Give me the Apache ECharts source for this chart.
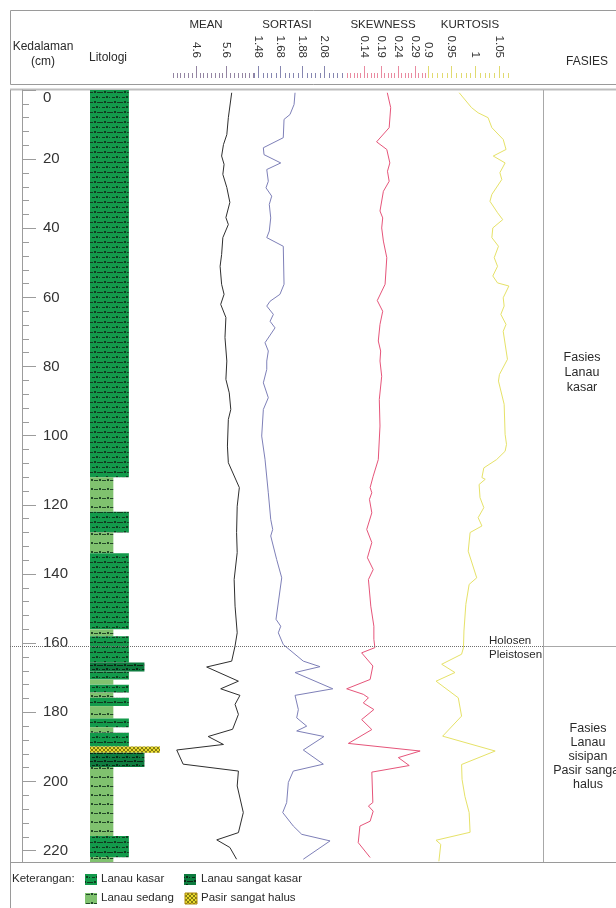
<!DOCTYPE html>
<html>
<head>
<meta charset="utf-8">
<title>Log sedimen</title>
<script src="https://cdn.jsdelivr.net/npm/echarts@6/dist/echarts.min.js"></script>
<style>
  html, body { margin: 0; padding: 0; background: #fff; }
  #chart { width: 616px; height: 908px; }
</style>
</head>
<body>
<div id="chart"></div>
<script>
// kedalaman (cm)
const depthTicks = [0, 20, 40, 60, 80, 100, 120, 140, 160, 180, 200, 220];
const maxDepth = 223.3;
const boundaryDepth = 161; // Holosen / Pleistosen

// litologi (cm)
const lithTop = [0, 112, 122, 128, 134, 156, 158, 165.6, 168.2, 170.5, 172, 174.3, 175.8, 178.2, 181.8, 184.3, 185.9, 189.9, 191.7, 195.8, 215.8, 221.9];
const lithBase = [112, 122, 128, 134, 156, 158, 165.6, 168.2, 170.5, 172, 174.3, 175.8, 178.2, 181.8, 184.3, 185.9, 189.9, 191.7, 195.8, 215.8, 221.9, 223.3];
const lithType = ['kasar', 'sedang', 'kasar', 'sedang', 'kasar', 'sedang', 'kasar', 'sangatKasar', 'kasar', 'sedang', 'kasar', 'sedang', 'kasar', 'sedang', 'kasar', 'sedang', 'kasar', 'pasir', 'sangatKasar', 'sedang', 'kasar', 'sedang'];

// MEAN
const meanDepth = [0.8, 8, 12.9, 15.8, 19.1, 21.5, 24.4, 28.2, 32.5, 36.9, 38.9, 42.7, 47.6, 51, 56.2, 59.1, 62, 65.8, 71.6, 78.4, 83.7, 87.6, 92.4, 95.3, 103, 107.8, 115, 120.4, 128, 133.8, 141.6, 149.3, 157, 160.8, 165.2, 166.9, 171, 173.2, 175.1, 177.7, 180.6, 184.9, 187, 189.3, 190.9, 195, 197, 201.3, 209, 214.8, 216.9, 219.1, 222.5];
const meanValue = [5.77, 5.66, 5.61, 5.50, 5.44, 5.52, 5.48, 5.61, 5.71, 5.58, 5.66, 5.48, 5.44, 5.39, 5.44, 5.52, 5.41, 5.58, 5.55, 5.61, 5.58, 5.69, 5.74, 5.66, 5.63, 5.66, 6.02, 5.95, 5.93, 5.95, 5.85, 5.88, 5.95, 5.88, 5.77, 4.95, 5.99, 5.41, 6.04, 5.88, 5.99, 5.80, 5.00, 5.50, 3.97, 4.18, 5.99, 5.95, 6.15, 5.99, 5.28, 5.71, 5.93];
const meanTicks = [4.6, 5.6];

// SORTASI
const sortDepth = [0.8, 4.2, 7.1, 8.5, 13.8, 16.7, 18.7, 21.1, 23, 26.4, 28.3, 30.7, 33.1, 37, 40.8, 42.7, 45.2, 56.2, 59.1, 61.1, 62.5, 64.9, 66.9, 68.8, 73.1, 75.5, 78.4, 80.8, 84.7, 89, 92.4, 100.1, 106.8, 116.5, 124.2, 127.1, 129, 135.8, 141.1, 153.1, 155.1, 157, 160.4, 165.2, 166.8, 168.5, 173.2, 175.1, 179.2, 181.6, 184, 185.4, 187, 190.9, 195, 197, 200.3, 206.1, 209, 212.9, 215.3, 217.2, 222.5];
const sortValue = [1.812, 1.803, 1.766, 1.712, 1.705, 1.524, 1.530, 1.682, 1.555, 1.569, 1.548, 1.600, 1.578, 1.591, 1.578, 1.555, 1.705, 1.712, 1.675, 1.585, 1.555, 1.615, 1.585, 1.630, 1.539, 1.569, 1.555, 1.555, 1.524, 1.569, 1.524, 1.509, 1.539, 1.569, 1.591, 1.609, 1.591, 1.645, 1.691, 1.639, 1.682, 1.660, 1.705, 1.887, 2.039, 1.812, 2.155, 1.812, 1.842, 1.827, 1.918, 1.827, 2.075, 1.887, 2.069, 1.796, 1.751, 1.736, 1.700, 1.796, 1.873, 2.130, 1.887];
const sortTicks = [1.48, 1.68, 1.88, 2.08];

// SKEWNESS
const skewDepth = [0.8, 5.1, 10.9, 15, 17.2, 21.1, 23.5, 26.4, 29.3, 35, 37, 39.9, 43.7, 48.5, 56.2, 60.9, 64, 67.8, 72.6, 75.5, 78.4, 82.8, 89.5, 97.2, 106.9, 111.7, 115, 116.5, 118.4, 122.3, 127.1, 130.9, 135.3, 138.7, 141.6, 149.3, 155.1, 158.9, 161.3, 162.8, 166.6, 170.5, 173.2, 174.8, 175.8, 177.3, 179.2, 182.1, 185, 189, 191.2, 193.1, 195.4, 197.3, 206.1, 207.1, 208.6, 211.5, 212.9, 217.7, 222];
const skewValue = [0.2085, 0.2185, 0.214, 0.177, 0.207, 0.216, 0.209, 0.214, 0.197, 0.187, 0.195, 0.192, 0.197, 0.207, 0.202, 0.179, 0.195, 0.187, 0.182, 0.189, 0.187, 0.192, 0.185, 0.187, 0.182, 0.167, 0.158, 0.163, 0.156, 0.163, 0.148, 0.163, 0.150, 0.167, 0.153, 0.160, 0.169, 0.169, 0.172, 0.133, 0.166, 0.158, 0.089, 0.138, 0.153, 0.138, 0.169, 0.133, 0.163, 0.094, 0.305, 0.241, 0.273, 0.163, 0.166, 0.153, 0.167, 0.158, 0.128, 0.123, 0.158];
const skewTicks = [0.14, 0.19, 0.24, 0.29];

// KURTOSIS
const kurtDepth = [0.8, 5.1, 6.6, 8, 10.9, 14.3, 17.2, 19.1, 21.1, 23.9, 25.9, 30.2, 32.2, 35.5, 37.5, 39.9, 42.7, 45.2, 48.5, 51, 53.8, 55.8, 56.7, 60.1, 62.5, 64.9, 67.8, 69.8, 77.9, 82.3, 84.2, 90.9, 99.6, 102.5, 104.5, 106.9, 109.3, 112.1, 112.6, 114.1, 117.9, 120.8, 123.7, 126.1, 128, 133.4, 141.1, 143, 148.8, 156.5, 161.3, 163.2, 166.1, 168.5, 171, 175.8, 181.1, 186.9, 191.2, 195.1, 199.4, 204.3, 209, 214.7, 217, 218.2, 223.1];
const kurtValue = [0.966, 0.992, 1.006, 1.027, 1.035, 1.059, 1.065, 1.038, 1.063, 1.052, 1.056, 1.035, 1.031, 1.047, 1.058, 1.037, 1.035, 1.049, 1.040, 1.047, 1.037, 1.047, 1.071, 1.059, 1.061, 1.054, 1.065, 1.059, 1.068, 1.051, 1.049, 1.061, 1.063, 1.066, 1.063, 1.045, 1.018, 1.014, 1.021, 1.008, 1.010, 1.018, 1.006, 1.014, 0.989, 0.985, 1.003, 0.987, 0.980, 0.976, 0.975, 0.971, 0.929, 0.957, 0.917, 0.964, 0.971, 0.931, 1.042, 0.971, 0.972, 0.978, 0.987, 0.989, 0.917, 0.927, 0.923];
const kurtTicks = [0.9, 0.95, 1, 1.05];

// ukuran butir untuk lebar kolom litologi
const grainCode = { sedang: 1, kasar: 2, sangatKasar: 3, pasir: 4 };

const FONT = '"Liberation Sans", Arial, sans-serif';
const TOP = 90, BOTTOM = 46;

// pola isian litologi
function makePattern(bg, ink, w, h, draw) {
  const c = document.createElement('canvas');
  c.width = w; c.height = h;
  const ctx = c.getContext('2d');
  ctx.fillStyle = bg;
  ctx.fillRect(0, 0, w, h);
  ctx.fillStyle = ink;
  draw(ctx);
  return { image: c, repeat: 'repeat' };
}
const fills = {
  kasar: makePattern('#139a4b', '#123a20', 10, 10, ctx => {
    ctx.fillRect(0, 2, 3, 1); ctx.fillRect(4, 1, 2, 2); ctx.fillRect(7, 2, 3, 1);
    ctx.fillRect(2, 7, 3, 1); ctx.fillRect(6, 6, 2, 2); ctx.fillRect(9, 7, 1, 1);
  }),
  sangatKasar: makePattern('#0e7c3f', '#0c2816', 10, 8, ctx => {
    ctx.fillRect(0, 1, 3, 1); ctx.fillRect(4, 0, 2, 2); ctx.fillRect(7, 1, 3, 1);
    ctx.fillRect(2, 5, 3, 1); ctx.fillRect(6, 4, 2, 2); ctx.fillRect(9, 5, 1, 1);
  }),
  sedang: makePattern('#80c26f', '#234a28', 8, 9, ctx => {
    ctx.fillRect(0, 3, 2, 1); ctx.fillRect(3, 2, 2, 2); ctx.fillRect(6, 3, 2, 1);
  }),
  pasir: makePattern('#e8da2c', '#857a12', 4, 4, ctx => {
    ctx.fillRect(1, 0, 2, 1); ctx.fillRect(0, 1, 1, 2); ctx.fillRect(3, 1, 1, 2); ctx.fillRect(1, 3, 2, 1);
  })
};

const tracks = [
  { name: 'MEAN', depth: meanDepth, value: meanValue, ticks: meanTicks, minorStep: 0.125, min: 3.75, max: 6.5, left: 170, width: 84, color: '#2e2e2e', scale: '#9485a2' },
  { name: 'SORTASI', depth: sortDepth, value: sortValue, ticks: sortTicks, minorStep: 0.04, min: 1.439, max: 2.266, left: 254, width: 91, color: '#7e80b8', scale: '#8686b0' },
  { name: 'SKEWNESS', depth: skewDepth, value: skewValue, ticks: skewTicks, minorStep: 0.01, min: 0.0841, max: 0.3282, left: 345, width: 83, color: '#e6557a', scale: '#e98aa0' },
  { name: 'KURTOSIS', depth: kurtDepth, value: kurtValue, ticks: kurtTicks, minorStep: 0.01, min: 0.9, max: 1.0797, left: 428, width: 85, color: '#e6e268', scale: '#e0da70' }
];

const grids = [], xAxes = [], yAxes = [], series = [];
function addGrid(left, width) {
  grids.push({ left: left, width: width, top: TOP, bottom: BOTTOM, containLabel: false, outerBoundsMode: 'none' });
  return grids.length - 1;
}
function hiddenDepthAxis(gi) {
  yAxes.push({ gridIndex: gi, type: 'value', inverse: true, min: 0, max: maxDepth, show: false, axisLine: { onZero: false } });
  return yAxes.length - 1;
}
function hiddenX(gi, min, max) {
  xAxes.push({ gridIndex: gi, type: 'value', min: min, max: max, show: false, axisLine: { onZero: false } });
  return xAxes.length - 1;
}

// kolom kedalaman
const gDepth = addGrid(22, 20);
hiddenX(gDepth, 0, 1);
const minorDepth = [];
for (let d = 0; d <= 220; d += 4) minorDepth.push(d);
yAxes.push({
  gridIndex: gDepth, type: 'value', inverse: true, min: 0, max: maxDepth, position: 'left',
  axisLine: { show: true, onZero: false, lineStyle: { color: '#9c9c9c', width: 1 } },
  axisTick: { show: true, inside: true, length: 7, customValues: minorDepth, lineStyle: { color: '#9c9c9c' } },
  axisLabel: { show: false },
  splitLine: { show: false }
});
yAxes.push({
  gridIndex: gDepth, type: 'value', inverse: true, min: 0, max: maxDepth, position: 'left',
  axisLine: { show: false, onZero: false },
  axisTick: { show: true, inside: true, length: 14, customValues: depthTicks, lineStyle: { color: '#9c9c9c' } },
  axisLabel: {
    show: true, inside: true, margin: 21, customValues: depthTicks,
    fontSize: 15, color: '#333', fontFamily: FONT,
    formatter: v => (v === 0 ? '{top|0}' : String(v)),
    rich: { top: { fontSize: 15, color: '#333', fontFamily: FONT, padding: [16, 0, 0, 0] } }
  },
  splitLine: { show: false }
});

// bingkai untuk garis batas Holosen / Pleistosen
const gFrame = addGrid(10, 533);
const xFrame = hiddenX(gFrame, 0, 1);
const yFrame = hiddenDepthAxis(gFrame);
series.push({
  type: 'line', data: [], xAxisIndex: xFrame, yAxisIndex: yFrame, z: 1, silent: true,
  markLine: {
    symbol: 'none', silent: true, animation: false, label: { show: false },
    lineStyle: { type: 'dotted', color: '#6f6f6f', width: 1 },
    data: [{ yAxis: boundaryDepth }]
  }
});
const gFasies = addGrid(543, 73);
const xFasies = hiddenX(gFasies, 0, 1);
const yFasies = hiddenDepthAxis(gFasies);
series.push({
  type: 'line', data: [], xAxisIndex: xFasies, yAxisIndex: yFasies, z: 1, silent: true,
  markLine: {
    symbol: 'none', silent: true, animation: false, label: { show: false },
    lineStyle: { type: 'solid', color: '#a8a8a8', width: 1 },
    data: [{ yAxis: boundaryDepth }]
  }
});

// litologi
const gLith = addGrid(90, 70);
const xLith = hiddenX(gLith, -0.5, 4);
const yLith = hiddenDepthAxis(gLith);
series.push({
  type: 'custom', xAxisIndex: xLith, yAxisIndex: yLith, z: 3, silent: true,
  encode: { x: 2, y: [0, 1] },
  data: lithTop.map((t, i) => [t, lithBase[i], grainCode[lithType[i]]]),
  renderItem: function (params, api) {
    const p0 = api.coord([-0.5, api.value(0)]);
    const p1 = api.coord([api.value(2), api.value(1)]);
    return {
      type: 'rect',
      shape: { x: p0[0], y: p0[1], width: p1[0] - p0[0], height: p1[1] - p0[1] },
      style: { fill: fills[lithType[params.dataIndex]] }
    };
  }
});

// kurva parameter statistik + skala di kepala tabel
tracks.forEach(t => {
  const gi = addGrid(t.left, t.width);
  const minors = [];
  for (let k = -40; k <= 40; k++) {
    const v = +(t.ticks[0] + k * t.minorStep).toFixed(4);
    if (v >= t.min - 1e-9 && v <= t.max + 1e-9) minors.push(v);
  }
  xAxes.push({
    gridIndex: gi, type: 'value', min: t.min, max: t.max, position: 'top', offset: 12,
    axisLine: { show: false, onZero: false },
    axisTick: { show: true, inside: false, length: 12, customValues: t.ticks, lineStyle: { color: t.scale, width: 1 } },
    axisLabel: { show: true, rotate: 90, margin: 20, customValues: t.ticks, fontSize: 11.5, color: '#333', fontFamily: FONT },
    splitLine: { show: false }
  });
  const xi = xAxes.length - 1;
  xAxes.push({
    gridIndex: gi, type: 'value', min: t.min, max: t.max, position: 'top', offset: 12,
    axisLine: { show: false, onZero: false },
    axisTick: { show: true, inside: false, length: 5, customValues: minors, lineStyle: { color: t.scale, width: 1 } },
    axisLabel: { show: false },
    splitLine: { show: false }
  });
  const yi = hiddenDepthAxis(gi);
  series.push({
    type: 'line', name: t.name, xAxisIndex: xi, yAxisIndex: yi, z: 4,
    data: t.depth.map((d, i) => [t.value[i], d]),
    showSymbol: false, symbol: 'none', clip: false, silent: true,
    lineStyle: { color: t.color, width: 1 }, itemStyle: { color: t.color }
  });
});

function txt(text, x, y, size, align, extra) {
  return {
    type: 'text', silent: true,
    style: Object.assign({
      text: text, x: x, y: y, fill: '#2a2a2a', font: size + 'px ' + FONT,
      textAlign: align || 'center', textVerticalAlign: 'middle'
    }, extra || {})
  };
}
function hline(x1, x2, y, color, w) {
  return { type: 'line', silent: true, shape: { x1: x1, y1: y, x2: x2, y2: y }, style: { stroke: color, lineWidth: w || 1 } };
}
function vline(x, y1, y2, color, w) {
  return { type: 'line', silent: true, shape: { x1: x, y1: y1, x2: x, y2: y2 }, style: { stroke: color, lineWidth: w || 1 } };
}
function swatch(x, y, fill, stroke) {
  return { type: 'rect', silent: true, shape: { x: x, y: y, width: 12, height: 11 }, style: { fill: fill, stroke: stroke || null, lineWidth: 1 } };
}

const graphics = [
  { type: 'rect', silent: true, shape: { x: 10.5, y: 10.5, width: 630, height: 74 }, style: { fill: 'none', stroke: '#9a9a9a', lineWidth: 1 } },
  hline(10, 616, 89.5, '#bdbdbd', 2),
  vline(10.5, 90, 908, '#9a9a9a'),
  hline(10, 616, 862.5, '#9a9a9a'),
  vline(543.5, 90, 862, '#a8a8a8'),
  txt('Kedalaman', 43, 47, 12),
  txt('(cm)', 43, 62, 12),
  txt('Litologi', 108, 58, 12),
  txt('FASIES', 587, 62, 12),
  txt('MEAN', 206, 25, 11.5),
  txt('SORTASI', 287, 25, 11.5),
  txt('SKEWNESS', 383, 25, 11.5),
  txt('KURTOSIS', 470, 25, 11.5),
  txt('Fasies\nLanau\nkasar', 582, 373, 12.5, 'center', { lineHeight: 15 }),
  txt('Fasies\nLanau\nsisipan\nPasir sangat\nhalus', 588, 757, 12.5, 'center', { lineHeight: 14 }),
  txt('Holosen', 489, 641, 11.5, 'left'),
  txt('Pleistosen', 489, 655, 11.5, 'left'),
  txt('Keterangan:', 12, 879, 11.5, 'left'),
  swatch(85, 874, fills.kasar),
  txt('Lanau kasar', 101, 879, 11.5, 'left'),
  swatch(184, 874, fills.sangatKasar),
  txt('Lanau sangat kasar', 201, 879, 11.5, 'left'),
  swatch(85, 893, fills.sedang),
  txt('Lanau sedang', 101, 898, 11.5, 'left'),
  swatch(185, 893, fills.pasir, '#b08a10'),
  txt('Pasir sangat halus', 201, 898, 11.5, 'left')
];

const chart = echarts.init(document.getElementById('chart'), null, { renderer: 'canvas' });
chart.setOption({
  animation: false,
  backgroundColor: '#fff',
  textStyle: { fontFamily: FONT },
  grid: grids,
  xAxis: xAxes,
  yAxis: yAxes,
  series: series,
  graphic: graphics
});
</script>
</body>
</html>
